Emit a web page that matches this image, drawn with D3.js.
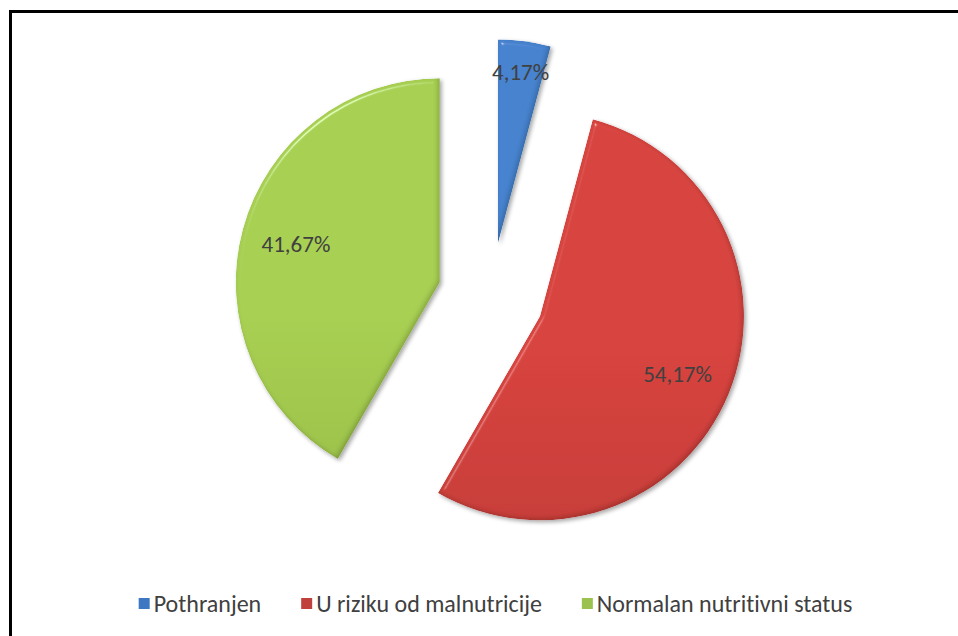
<!DOCTYPE html>
<html>
<head>
<meta charset="utf-8">
<script src="https://cdn.jsdelivr.net/npm/d3@7"></script>
<style>
  html, body { margin: 0; padding: 0; background: #fff; }
  svg { display: block; }
  text { font-variant-ligatures: none; font-feature-settings: "liga" 0, "clig" 0; }
</style>
</head>
<body>
<svg id="chart" width="958" height="636"></svg>
<script>
// ---- data ----
const categories = ["Pothranjen", "U riziku od malnutricije", "Normalan nutritivni status"];
const values = [4.17, 54.17, 41.67];
const colorsTop = ["#4683cf", "#d8443f", "#a8d052"];
const colorsBottom = ["#2c5d9e", "#a8322e", "#84a33b"];
const legendColors = ["#3f78c2", "#c0403b", "#9bc24f"];

// ---- layout ----
const W = 958, H = 636;
const cx = 491, cy = 296, R = 204, explode = 53;
const svg = d3.select("#chart");
const defs = svg.append("defs");

// border (top + left only visible)
svg.append("path")
  .attr("d", `M10.5,${H} L10.5,11.5 L${W},11.5`)
  .attr("fill", "none").attr("stroke", "#000").attr("stroke-width", 3);

// gradients
values.forEach((v, i) => {
  const g = defs.append("linearGradient").attr("id", "grad" + i)
    .attr("gradientUnits", "userSpaceOnUse")
    .attr("x1", 0).attr("y1", cy - R - 60).attr("x2", 0).attr("y2", cy + R + 60);
  g.append("stop").attr("offset", "0%").attr("stop-color", colorsTop[i]);
  g.append("stop").attr("offset", "100%").attr("stop-color", colorsBottom[i]);
});

// bevel filter
const f = defs.append("filter").attr("id", "bevel")
  .attr("x", "-10%").attr("y", "-10%").attr("width", "125%").attr("height", "125%");
f.append("feGaussianBlur").attr("in", "SourceAlpha").attr("stdDeviation", 2.5).attr("result", "blur");
const spec = f.append("feSpecularLighting").attr("in", "blur")
  .attr("surfaceScale", 4).attr("specularConstant", 0.8).attr("specularExponent", 70)
  .attr("lighting-color", "#ffffff").attr("result", "spec");
spec.append("feDistantLight").attr("azimuth", 235).attr("elevation", 40);
f.append("feComposite").attr("in", "spec").attr("in2", "SourceAlpha").attr("operator", "in").attr("result", "specIn");
// inner dark edge
f.append("feOffset").attr("in", "blur").attr("dx", -2).attr("dy", -2).attr("result", "offBlur");
f.append("feComposite").attr("in", "SourceAlpha").attr("in2", "offBlur").attr("operator", "out").attr("result", "edge");
f.append("feFlood").attr("flood-color", "#000").attr("flood-opacity", 0.4).attr("result", "dark");
f.append("feComposite").attr("in", "dark").attr("in2", "edge").attr("operator", "in").attr("result", "darkEdge");
f.append("feComposite").attr("in", "SourceGraphic").attr("in2", "specIn").attr("operator", "arithmetic")
  .attr("k1", 0).attr("k2", 1).attr("k3", 0.5).attr("k4", 0).attr("result", "lit");
f.append("feComposite").attr("in", "darkEdge").attr("in2", "lit").attr("operator", "over").attr("result", "withEdge");
f.append("feComposite").attr("in", "withEdge").attr("in2", "SourceAlpha").attr("operator", "in").attr("result", "final");
// drop shadow
f.append("feGaussianBlur").attr("in", "SourceAlpha").attr("stdDeviation", 2).attr("result", "sblur");
f.append("feOffset").attr("in", "sblur").attr("dx", 1.5).attr("dy", 2).attr("result", "soff");
f.append("feComponentTransfer").attr("in", "soff").attr("result", "sfade")
  .append("feFuncA").attr("type", "linear").attr("slope", 0.35);
const m = f.append("feMerge");
m.append("feMergeNode").attr("in", "sfade");
m.append("feMergeNode").attr("in", "final");

// pie
const pie = d3.pie().sort(null).value(d => d)(values);
const arc = d3.arc().innerRadius(0).outerRadius(R);
const fmt = d3.formatLocale({ decimal: ",", thousands: ".", grouping: [3], currency: ["", ""] }).format(".2f");

const g = svg.append("g").attr("transform", `translate(${cx},${cy})`);
const slices = g.selectAll("g.slice").data(pie).enter().append("g")
  .attr("class", "slice")
  .attr("transform", d => {
    const a = (d.startAngle + d.endAngle) / 2;
    return `translate(${explode * Math.sin(a)},${-explode * Math.cos(a)})`;
  });

slices.append("path")
  .attr("d", arc)
  .attr("fill", (d, i) => `url(#grad${i})`)
  .attr("filter", "url(#bevel)");

slices.append("text")
  .attr("transform", d => {
    const a = (d.startAngle + d.endAngle) / 2;
    const lr = d.value < 10 ? R * 0.85 : R * 0.73;
    return `translate(${lr * Math.sin(a)},${-lr * Math.cos(a)})`;
  })
  .attr("text-anchor", "middle")
  .attr("dy", "0.36em")
  .attr("font-family", "Carlito, Calibri, Lato, sans-serif")
  .attr("font-size", 23)
  .attr("fill", "#404040")
  .text(d => fmt(d.value) + "%");

// legend
const legend = svg.append("g").attr("class", "legend");
const legendY = 604;
const items = legend.selectAll("g").data(categories).enter().append("g");
items.append("rect")
  .attr("width", 11).attr("height", 11).attr("y", legendY - 6)
  .attr("fill", (d, i) => legendColors[i]);
items.append("text")
  .attr("x", 15).attr("y", legendY).attr("dy", "0.35em")
  .attr("font-family", "Carlito, Calibri, Lato, sans-serif")
  .attr("font-size", 24)
  .attr("fill", "#404040")
  .text(d => d);
let widths = [];
items.each(function () { widths.push(15 + this.querySelector("text").getComputedTextLength()); });
const gap = 40;
const total = d3.sum(widths) + gap * (widths.length - 1);
let x0 = 495.5 - total / 2;
items.attr("transform", (d, i) => {
  const x = x0; x0 += widths[i] + gap; return `translate(${x},0)`;
});
</script>
</body>
</html>
